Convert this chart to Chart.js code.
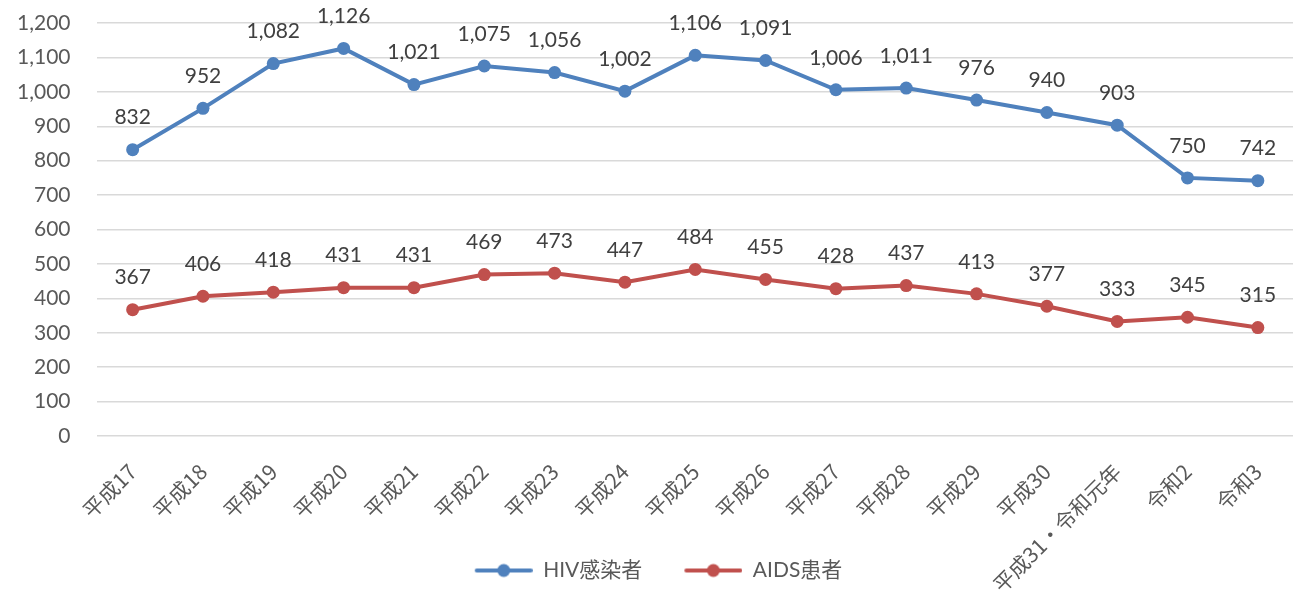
<!DOCTYPE html>
<html><head><meta charset="utf-8">
<script src="https://cdn.jsdelivr.net/npm/chart.js@4/dist/chart.umd.min.js"></script>
<style>html,body{margin:0;padding:0;background:#fff}#wrap{width:1293px;height:593px;position:relative}</style>
</head><body><div id="wrap"><canvas id="c"></canvas></div>
<script>
const categories = ['平成17','平成18','平成19','平成20','平成21','平成22','平成23','平成24','平成25','平成26','平成27','平成28','平成29','平成30','平成31・令和元年','令和2','令和3'];
const hivValues = [832,952,1082,1126,1021,1075,1056,1002,1106,1091,1006,1011,976,940,903,750,742];
const aidsValues = [367,406,418,431,431,469,473,447,484,455,428,437,413,377,333,345,315];
const seriesNames = ['HIV感染者','AIDS患者'];

const FONT = "Lato, 'Noto Sans CJK JP', sans-serif";
const XFONT = "'Noto Sans CJK JP', sans-serif";
const BLUE = '#4F81BD', RED = '#C0504D';

function legendIcon(color){
  const cv = document.createElement('canvas');
  cv.width = 92; cv.height = 16;
  const g = cv.getContext('2d');
  g.strokeStyle = color; g.lineWidth = 4; g.lineCap = 'round';
  g.beginPath(); g.moveTo(36,8); g.lineTo(90,8); g.stroke();
  g.fillStyle = color; g.beginPath(); g.arc(63,8,6.5,0,Math.PI*2); g.fill();
  return cv;
}

const labelPlugin = {
  id: 'valueLabels',
  afterDatasetsDraw(chart){
    const ctx = chart.ctx;
    ctx.save();
    ctx.font = "21px " + FONT;
    ctx.fillStyle = '#404040';
    ctx.textAlign = 'center';
    ctx.textBaseline = 'middle';
    chart.data.datasets.forEach((ds, i) => {
      const meta = chart.getDatasetMeta(i);
      meta.data.forEach((pt, j) => {
        ctx.fillText(ds.data[j].toLocaleString('en-US'), pt.x, pt.y - 32);
      });
    });
    ctx.restore();
  }
};

new Chart(document.getElementById('c'), {
  type: 'line',
  data: {
    labels: categories,
    datasets: [
      {label: seriesNames[0], data: hivValues, borderColor: BLUE, backgroundColor: BLUE, borderWidth: 4, pointRadius: 6.5, pointBackgroundColor: BLUE, pointBorderWidth: 0, tension: 0},
      {label: seriesNames[1], data: aidsValues, borderColor: RED, backgroundColor: RED, borderWidth: 4, pointRadius: 6.5, pointBackgroundColor: RED, pointBorderWidth: 0, tension: 0}
    ]
  },
  options: {
    responsive: true, maintainAspectRatio: false, animation: false,
    layout: {autoPadding: false, padding: {top: 0, left: -10, right: 0, bottom: 2}},
    plugins: {
      tooltip: {enabled: false},
      legend: {
        position: 'bottom',
        labels: {
          font: {family: FONT, size: 21}, color: '#595959', usePointStyle: true, pointStyleWidth: 92, padding: 8,
          generateLabels(chart){
            return chart.data.datasets.map((ds, i) => ({
              text: ds.label, pointStyle: legendIcon(ds.borderColor), fillStyle: ds.borderColor,
              strokeStyle: ds.borderColor, lineWidth: 0, datasetIndex: i, fontColor: '#595959'
            }));
          }
        }
      }
    },
    scales: {
      x: {
        offset: true,
        grid: {display: false},
        border: {display: false},
        ticks: {font: {family: XFONT, size: 21}, color: '#595959', maxRotation: 45, minRotation: 45, autoSkip: false, padding: 15},
        afterFit(s){
          s.height = 116; s.paddingLeft = 0; s.paddingRight = 0; s.paddingTop = 0; s.paddingBottom = 0;
          s._computeLabelArea = () => null;
        }
      },
      y: {
        min: 0, max: 1200,
        grid: {color: '#d9d9d9', lineWidth: 1.5, drawTicks: false},
        border: {display: false},
        ticks: {stepSize: 100, autoSkip: false, font: {family: FONT, size: 21}, color: '#595959', padding: 27,
          callback: v => v.toLocaleString('en-US')},
        afterFit(s){ s.paddingTop = 23; s.paddingBottom = 0; }
      }
    }
  },
  plugins: [labelPlugin]
});
</script></body></html>
